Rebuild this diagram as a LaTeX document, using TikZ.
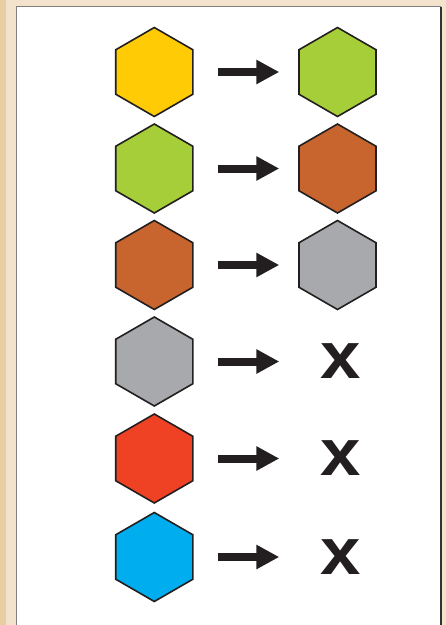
\documentclass[tikz,border=0pt]{standalone}
\usepackage{fontspec}
\setmainfont{Liberation Sans}
\usepackage{xcolor}
\usepackage{graphicx}
\usepackage{tikz}
\usetikzlibrary{arrows.meta}
\usetikzlibrary{shapes.geometric}

\definecolor{hexyellow}{HTML}{FFCB05}
\definecolor{hexgreen}{HTML}{A6CE39}
\definecolor{hexbrown}{HTML}{C8652F}
\definecolor{hexgray}{HTML}{A7A9AC}
\definecolor{hexred}{HTML}{EF4123}
\definecolor{hexblue}{HTML}{00ADEE}
\definecolor{inkblack}{HTML}{231F20}
\definecolor{paper}{HTML}{F3E3CD}
\definecolor{paperdark}{HTML}{E8CFA3}

\newcommand{\nopex}{\scalebox{1.1}[1]{x}}

\tikzset{
  hexa/.style={regular polygon, regular polygon sides=6, shape border rotate=30,
    minimum size=89pt, inner sep=0pt, outer sep=0pt, draw=inkblack, line width=1.6pt},
  nope/.style={minimum width=83pt, inner sep=0pt, outer sep=0pt,
    font=\fontsize{66}{66}\selectfont\bfseries, text=inkblack},
  turns/.style={line width=8pt, draw=inkblack, shorten <=25pt, shorten >=19.7pt,
    -{Triangle[length=23pt,width=23pt]}}
}

\begin{document}
\begin{tikzpicture}[x=1pt,y=-1pt]
\useasboundingbox (0,0) rectangle (446,625);
% paper and panel
\fill[paper] (0,0) rectangle (446,625);
\fill[paperdark] (0,0) rectangle (6,625);
\fill[white] (16.5,6.5) rectangle (441,625);
\draw[line width=1.3pt, gray] (16.5,625) -- (16.5,6.5) -- (441,6.5);
\draw[line width=1.5pt, black!80] (441,6.5) -- (441,625);

% left column
\node[hexa, fill=hexyellow] (y1) at (154.3,72) {};
\node[hexa, fill=hexgreen]  (g1) at (154.3,168.5) {};
\node[hexa, fill=hexbrown]  (b1) at (154.3,265) {};
\node[hexa, fill=hexgray]   (s1) at (154.3,361.5) {};
\node[hexa, fill=hexred]    (r1) at (154.3,458.5) {};
\node[hexa, fill=hexblue]   (c1) at (154.3,557) {};

% right column
\node[hexa, fill=hexgreen]  (y2) at (337.5,72) {};
\node[hexa, fill=hexbrown]  (g2) at (337.5,168.5) {};
\node[hexa, fill=hexgray]   (b2) at (337.5,265) {};
\node[nope] (s2) at (340.5,361.5) {\nopex};
\node[nope] (r2) at (340.5,458.5) {\nopex};
\node[nope] (c2) at (340.5,557) {\nopex};

% arrows
\draw[turns] (y1) -- (y2);
\draw[turns] (g1) -- (g2);
\draw[turns] (b1) -- (b2);
\draw[turns] (s1) -- (s2);
\draw[turns] (r1) -- (r2);
\draw[turns] (c1) -- (c2);
\end{tikzpicture}
\end{document}
